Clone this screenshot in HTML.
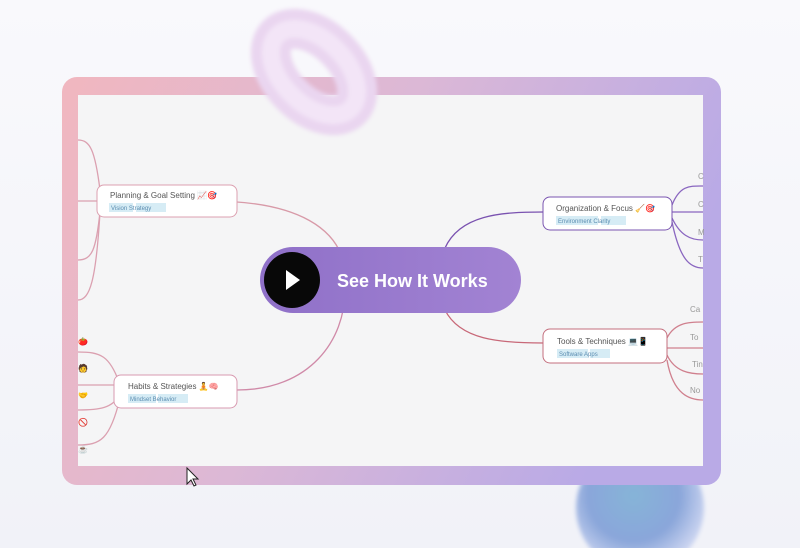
<!DOCTYPE html>
<html><head><style>
html,body{margin:0;padding:0;width:800px;height:548px;overflow:hidden;background:#f7f7fb;font-family:"Liberation Sans","Noto Sans CJK SC",sans-serif;}
</style></head><body>
<svg width="800" height="548" viewBox="0 0 800 548" xmlns="http://www.w3.org/2000/svg" style="position:absolute;left:0;top:0">
<defs>
<linearGradient id="bg" x1="0" y1="0" x2="0" y2="1"><stop offset="0" stop-color="#f9f9fc"/><stop offset="1" stop-color="#f1f2f8"/></linearGradient>
<linearGradient id="fr" x1="0" y1="0" x2="1" y2="0.3"><stop offset="0" stop-color="#f1b7bf"/><stop offset="0.5" stop-color="#dcb8d6"/><stop offset="1" stop-color="#b9aae6"/></linearGradient>
<radialGradient id="sp" cx="0.45" cy="0.4" r="0.6"><stop offset="0" stop-color="#86b4d8"/><stop offset="0.6" stop-color="#8aa6da"/><stop offset="1" stop-color="#d0d8f2"/></radialGradient>
<linearGradient id="btn" x1="0" y1="0" x2="1" y2="0"><stop offset="0" stop-color="#8f70c8"/><stop offset="1" stop-color="#a283d3"/></linearGradient>
<filter id="bl" x="-50%" y="-50%" width="200%" height="200%"><feGaussianBlur stdDeviation="2"/></filter>
</defs>
<rect width="800" height="548" fill="url(#bg)"/>
<circle cx="640" cy="508" r="64" fill="url(#sp)" filter="url(#bl)"/>
<rect x="62" y="77" width="659" height="408" rx="15" fill="url(#fr)"/>
<rect x="78" y="95" width="625" height="371" fill="#f5f5f6"/>
<g fill="none" stroke-width="1.3">
<path d="M210 201 C 300 201, 340 230, 345 270" stroke="#d89aa8"/>
<path d="M237 390 C 310 390, 345 340, 345 290" stroke="#d08aa8"/>
<path d="M445 248 C 460 215, 500 212, 543 212" stroke="#7a52b0"/>
<path d="M445 310 C 460 340, 500 343, 543 343" stroke="#c86878"/>
<g stroke="#dba0b0">
<path d="M97 201 H78"/><path d="M100 190 C 95 150, 90 140, 78 140"/><path d="M100 212 C 96 250, 92 260, 78 260"/><path d="M100 212 C 96 280, 90 300, 78 300"/>
<path d="M120 385 C 110 355, 100 352, 78 352"/><path d="M120 385 H78"/><path d="M120 395 C 112 408, 100 410, 78 410"/><path d="M120 398 C 110 440, 100 445, 78 445"/>
</g>
<g stroke="#8a66c0">
<path d="M672 205 C 680 185, 690 186, 703 186"/><path d="M672 212 H703"/><path d="M672 218 C 680 235, 690 240, 703 240"/><path d="M672 222 C 680 260, 690 268, 703 268"/>
</g>
<g stroke="#d0808e">
<path d="M667 338 C 675 322, 690 322, 703 322"/><path d="M667 348 H703"/><path d="M667 355 C 675 372, 690 374, 703 374"/><path d="M667 360 C 673 395, 690 400, 703 400"/>
</g>
</g>
<g font-size="8" fill="#555">
<rect x="97" y="185" width="140" height="32" rx="7" fill="#fff" stroke="#dca0b0"/>
<text x="110" y="198">Planning &amp; Goal Setting 📈🎯</text>
<rect x="109" y="203" width="24" height="9" fill="#d6ecf5"/><rect x="136" y="203" width="30" height="9" fill="#d6ecf5"/>
<text x="111" y="210" font-size="6" fill="#5a8cb0">Vision  Strategy</text>
<rect x="114" y="375" width="123" height="33" rx="7" fill="#fff" stroke="#d89ab0"/>
<text x="128" y="389">Habits &amp; Strategies 🧘🧠</text>
<rect x="128" y="394" width="28" height="9" fill="#d6ecf5"/><rect x="158" y="394" width="30" height="9" fill="#d6ecf5"/>
<text x="130" y="401" font-size="6" fill="#5a8cb0">Mindset  Behavior</text>
<rect x="543" y="197" width="129" height="33" rx="7" fill="#fff" stroke="#7a55b0"/>
<text x="556" y="211">Organization &amp; Focus 🧹🎯</text>
<rect x="556" y="216" width="42" height="9" fill="#d6ecf5"/><rect x="601" y="216" width="25" height="9" fill="#d6ecf5"/>
<text x="558" y="223" font-size="6" fill="#5a8cb0">Environment  Clarity</text>
<rect x="543" y="329" width="124" height="34" rx="7" fill="#fff" stroke="#c46f7e"/>
<text x="557" y="344">Tools &amp; Techniques 💻📱</text>
<rect x="557" y="349" width="31" height="9" fill="#d6ecf5"/><rect x="590" y="349" width="20" height="9" fill="#d6ecf5"/>
<text x="559" y="356" font-size="6" fill="#5a8cb0">Software  Apps</text>
<g font-size="8" fill="#999">
<text x="698" y="179">C</text><text x="698" y="207">C</text><text x="698" y="235">M</text><text x="698" y="262">T</text>
<text x="690" y="312">Ca</text><text x="690" y="340">To</text><text x="692" y="367">Tin</text><text x="690" y="393">No</text>
</g>
<text x="78" y="344" font-size="8">🍅</text><text x="78" y="371" font-size="8">🧑</text><text x="78" y="398" font-size="8">🤝</text><text x="78" y="425" font-size="8">🚫</text><text x="78" y="452" font-size="8">☕</text>
</g>
<rect x="260" y="247" width="261" height="66" rx="33" fill="url(#btn)"/>
<circle cx="292" cy="280" r="28" fill="#080808"/>
<path d="M286 270 L300 280 L286 290 Z" fill="#fff"/>
<text x="337" y="287" font-size="18" font-weight="bold" fill="#fff">See How It Works</text>
<g transform="rotate(45 314 72)" filter="url(#bl)">
<ellipse cx="314" cy="72" rx="52" ry="32" fill="none" stroke="#ead6f0" stroke-width="40"/>
<ellipse cx="314" cy="72" rx="52" ry="32" fill="none" stroke="#f3e5f7" stroke-width="18"/>
</g>
<path d="M187 468 L187 484 L191 480 L194 486 L196 485 L193 479 L198 479 Z" fill="#fff" stroke="#222" stroke-width="1"/>
</svg>
</body></html>
